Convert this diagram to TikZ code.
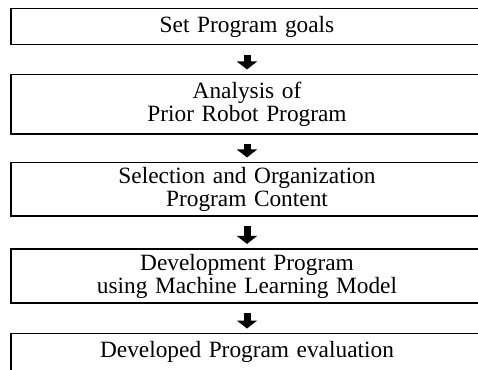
\documentclass[tikz,border=0pt]{standalone}
\usepackage{fontspec}
\setmainfont{Liberation Serif}[WordSpace=1.3]
\usetikzlibrary{arrows.meta}

\tikzset{
  stagebox/.style={draw=black, line width=1.2pt, minimum width=354pt,
    align=center, inner sep=0pt,
    font=\fontsize{17.5pt}{17.25pt}\selectfont},
  flowarrow/.style={draw=black, line width=5.25pt,
    -{Triangle[width=15pt, length=6pt]},
    shorten <=7.2pt, shorten >=3.2pt}
}

\begin{document}
\begin{tikzpicture}[x=0.75pt, y=-0.75pt]
  \useasboundingbox (0,0) rectangle (478,370);
  \clip (0,0) rectangle (478,370);

  % process stages, top to bottom
  \node[stagebox, minimum height=26.85pt] (goals) at (247,26.6)
    {Set Program goals};
  \node[stagebox, minimum height=44.6pt] (prior) at (247,104.25)
    {Analysis of\\Prior Robot Program};
  \node[stagebox, minimum height=40.1pt] (content) at (247,189.25)
    {Selection and Organization\\Program Content};
  \node[stagebox, minimum height=40.5pt] (develop) at (247,276)
    {Development Program\\using Machine Learning Model};
  \node[stagebox, minimum height=28pt] (evaluate) at (247,352.25)
    {Developed Program evaluation};

  % block arrows between stages
  \draw[flowarrow] (goals) -- (prior);
  \draw[flowarrow] (prior) -- (content);
  \draw[flowarrow] (content) -- (develop);
  \draw[flowarrow] (develop) -- (evaluate);
\end{tikzpicture}
\end{document}
